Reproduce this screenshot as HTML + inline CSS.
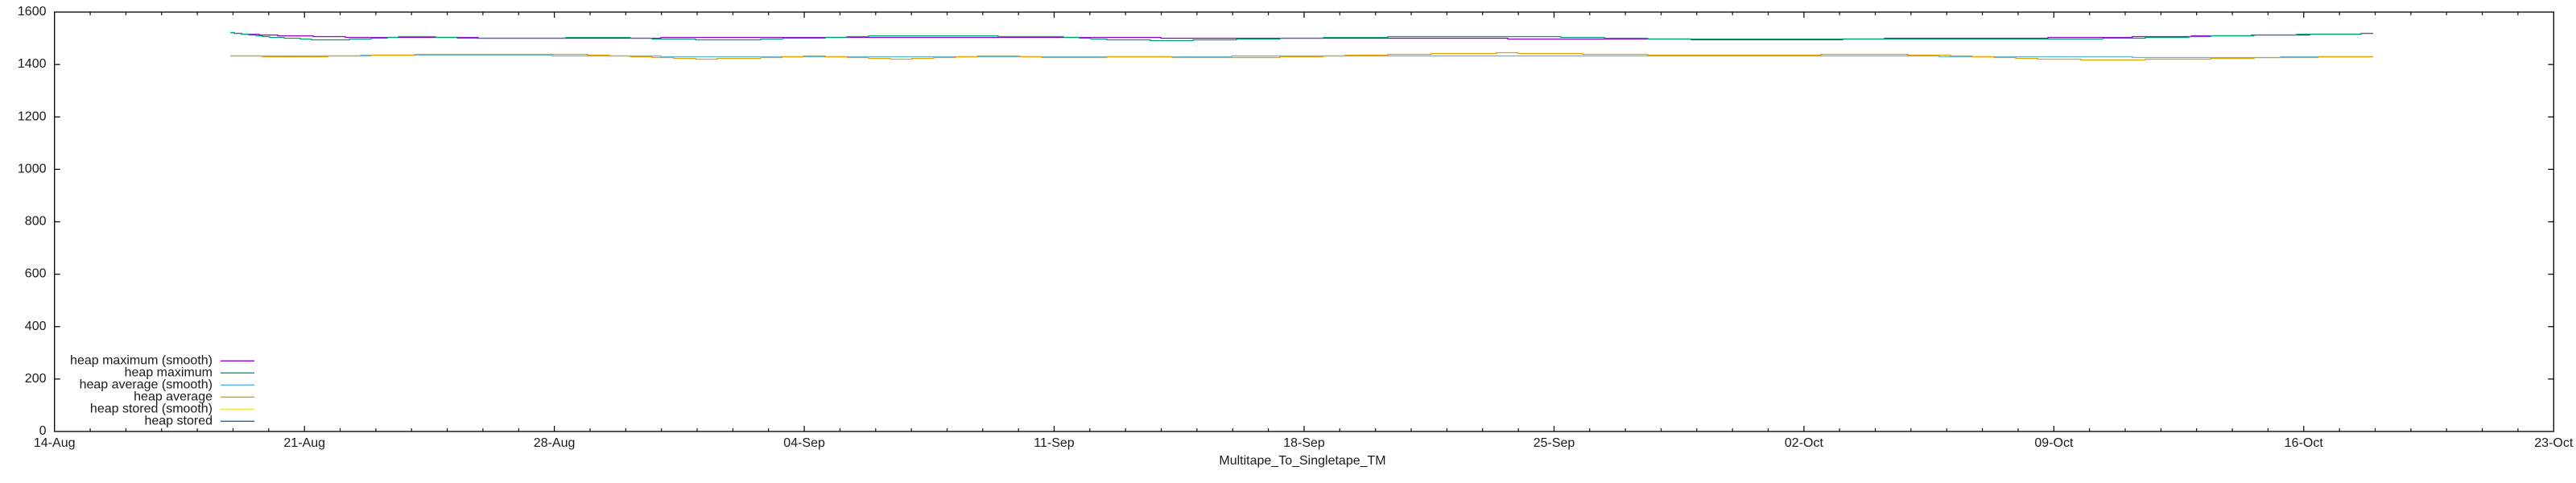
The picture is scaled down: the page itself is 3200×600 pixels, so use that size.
<!DOCTYPE html>
<html>
<head>
<meta charset="utf-8">
<style>
  html, body { margin: 0; padding: 0; background: #ffffff; }
  svg { display: block; }
  text { font-family: "Liberation Sans", "DejaVu Sans", sans-serif; font-size: 16px; fill: #1a1a1a; }
</style>
</head>
<body>
<svg width="3200" height="600" viewBox="0 0 3200 600" xmlns="http://www.w3.org/2000/svg">
  <rect x="0" y="0" width="3200" height="600" fill="#ffffff"/>

  <!-- data series -->
  <g fill="none" stroke-width="1.3">
    <!-- heap maximum (smooth) -->
    <path stroke="#9400d3" d="M286 40.5 H291 V41.5 H300 V42.5 H322 V43.5 H345 V44.5 H389 V45.5 H429 V46.5 H594 V47.5 H821 V46.5 H1442 V47.5 H1873 V48.5 H2101 V49.3 H2289 V48.5 H2341 V47.5 H2544 V46.5 H2649 V45.5 H2722 V44.5 H2797 V43.5 H2869 V42.5 H2933 V41.5 H2948"/>
    <!-- heap maximum -->
    <path stroke="#009e73" d="M286 40.5 H291 V41.5 H300 V42.5 H309 V43.5 H318 V44.5 H326 V45.5 H335 V46.5 H353 V47.5 H373 V48.5 H387 V49.5 H434 V48.5 H461 V47.5 H481 V46.5 H495 V45.5 H541 V46.5 H568 V47.5 H703 V46.5 H783 V47.5 H810 V48.5 H864 V49.5 H945 V48.5 H972 V47.5 H1025 V46.5 H1052 V45.5 H1079 V44.5 H1240 V45.5 H1321 V46.5 H1341 V47.5 H1355 V48.5 H1375 V49.5 H1429 V50.5 H1482 V49.5 H1536 V48.5 H1590 V47.5 H1644 V46.5 H1724 V45.5 H1939 V46.5 H1993 V47.5 H2047 V48.5 H2612 V47.5 H2665 V46.5 H2719 V45.5 H2746 V44.5 H2800 V43.5 H2853 V42.5 H2933 V41.5 H2948"/>
    <!-- heap average (smooth) -->
    <path stroke="#56b4e9" d="M286 69.5 H448 V68.5 H686 V69.5 H821 V70.5 H1530 V69.5 H2409 V70.5 H2649 V71.5 H2833 V70.5 H2948"/>
    <!-- heap average -->
    <path stroke="#e69f00" d="M286 69.5 H326 V70.5 H407 V69.5 H461 V68.5 H515 V67.5 H730 V68.5 H757 V69.5 H783 V70.5 H810 V71.5 H837 V72.5 H864 V73.5 H891 V72.5 H945 V71.5 H972 V70.5 H998 V69.5 H1025 V70.5 H1052 V71.5 H1079 V72.5 H1106 V73.5 H1133 V72.5 H1160 V71.5 H1187 V70.5 H1214 V69.5 H1267 V70.5 H1294 V71.5 H1375 V70.5 H1456 V71.5 H1590 V70.5 H1644 V69.5 H1671 V68.5 H1724 V67.5 H1778 V66.5 H1859 V65.5 H1886 V66.5 H1966 V67.5 H2047 V68.5 H2262 V67.5 H2370 V68.5 H2423 V69.5 H2450 V70.5 H2477 V71.5 H2504 V72.5 H2531 V73.5 H2585 V74.5 H2665 V73.5 H2746 V72.5 H2800 V71.5 H2880 V70.5 H2948"/>
  </g>

  <!-- axes border -->
  <rect x="67.7" y="15" width="3104.6" height="521" fill="none" stroke="#000" stroke-width="1.3"/>

  <!-- y ticks (left and mirrored right) -->
  <path stroke="#000" stroke-width="1.2" fill="none" d="
    M67.7 470.9 h7 M67.7 405.75 h7 M67.7 340.6 h7 M67.7 275.5 h7 M67.7 210.4 h7 M67.7 145.25 h7 M67.7 80.1 h7
    M3172.3 470.9 h-7 M3172.3 405.75 h-7 M3172.3 340.6 h-7 M3172.3 275.5 h-7 M3172.3 210.4 h-7 M3172.3 145.25 h-7 M3172.3 80.1 h-7"/>

  <!-- x major ticks -->
  <path stroke="#000" stroke-width="1.2" fill="none" d="
    M378.2 536 v-7 M688.6 536 v-7 M999.1 536 v-7 M1309.5 536 v-7 M1620 536 v-7 M1930.5 536 v-7 M2240.9 536 v-7 M2551.4 536 v-7 M2861.8 536 v-7
    M378.2 15 v7 M688.6 15 v7 M999.1 15 v7 M1309.5 15 v7 M1620 15 v7 M1930.5 15 v7 M2240.9 15 v7 M2551.4 15 v7 M2861.8 15 v7"/>

  <!-- x minor ticks -->
  <path stroke="#000" stroke-width="1.1" fill="none" d="
    M112.05 536 v-4 M156.4 536 v-4 M200.75 536 v-4 M245.1 536 v-4 M289.5 536 v-4 M333.8 536 v-4
    M422.5 536 v-4 M466.9 536 v-4 M511.2 536 v-4 M555.6 536 v-4 M599.9 536 v-4 M644.3 536 v-4
    M733 536 v-4 M777.3 536 v-4 M821.7 536 v-4 M866 536 v-4 M910.4 536 v-4 M954.7 536 v-4
    M1043.4 536 v-4 M1087.8 536 v-4 M1132.1 536 v-4 M1176.5 536 v-4 M1220.8 536 v-4 M1265.2 536 v-4
    M1353.9 536 v-4 M1398.2 536 v-4 M1442.6 536 v-4 M1486.9 536 v-4 M1531.3 536 v-4 M1575.6 536 v-4
    M1664.3 536 v-4 M1708.7 536 v-4 M1753 536 v-4 M1797.4 536 v-4 M1841.7 536 v-4 M1886.1 536 v-4
    M1974.8 536 v-4 M2019.1 536 v-4 M2063.5 536 v-4 M2107.8 536 v-4 M2152.2 536 v-4 M2196.5 536 v-4
    M2285.2 536 v-4 M2329.6 536 v-4 M2373.9 536 v-4 M2418.3 536 v-4 M2462.6 536 v-4 M2507 536 v-4
    M2595.7 536 v-4 M2640 536 v-4 M2684.4 536 v-4 M2728.7 536 v-4 M2773.1 536 v-4 M2817.4 536 v-4
    M2906.2 536 v-4 M2950.5 536 v-4 M2994.9 536 v-4 M3039.2 536 v-4 M3083.6 536 v-4 M3127.9 536 v-4
    M112.05 15 v4 M156.4 15 v4 M200.75 15 v4 M245.1 15 v4 M289.5 15 v4 M333.8 15 v4
    M422.5 15 v4 M466.9 15 v4 M511.2 15 v4 M555.6 15 v4 M599.9 15 v4 M644.3 15 v4
    M733 15 v4 M777.3 15 v4 M821.7 15 v4 M866 15 v4 M910.4 15 v4 M954.7 15 v4
    M1043.4 15 v4 M1087.8 15 v4 M1132.1 15 v4 M1176.5 15 v4 M1220.8 15 v4 M1265.2 15 v4
    M1353.9 15 v4 M1398.2 15 v4 M1442.6 15 v4 M1486.9 15 v4 M1531.3 15 v4 M1575.6 15 v4
    M1664.3 15 v4 M1708.7 15 v4 M1753 15 v4 M1797.4 15 v4 M1841.7 15 v4 M1886.1 15 v4
    M1974.8 15 v4 M2019.1 15 v4 M2063.5 15 v4 M2107.8 15 v4 M2152.2 15 v4 M2196.5 15 v4
    M2285.2 15 v4 M2329.6 15 v4 M2373.9 15 v4 M2418.3 15 v4 M2462.6 15 v4 M2507 15 v4
    M2595.7 15 v4 M2640 15 v4 M2684.4 15 v4 M2728.7 15 v4 M2773.1 15 v4 M2817.4 15 v4
    M2906.2 15 v4 M2950.5 15 v4 M2994.9 15 v4 M3039.2 15 v4 M3083.6 15 v4 M3127.9 15 v4"/>

  <!-- y tick labels -->
  <g text-anchor="end">
    <text x="57.5" y="540">0</text>
    <text x="57.5" y="474.9">200</text>
    <text x="57.5" y="409.75">400</text>
    <text x="57.5" y="344.6">600</text>
    <text x="57.5" y="279.5">800</text>
    <text x="57.5" y="214.4">1000</text>
    <text x="57.5" y="149.25">1200</text>
    <text x="57.5" y="84.1">1400</text>
    <text x="57.5" y="19">1600</text>
  </g>

  <!-- x tick labels -->
  <g text-anchor="middle">
    <text x="67.7" y="555">14-Aug</text>
    <text x="378.2" y="555">21-Aug</text>
    <text x="688.6" y="555">28-Aug</text>
    <text x="999.1" y="555">04-Sep</text>
    <text x="1309.5" y="555">11-Sep</text>
    <text x="1620" y="555">18-Sep</text>
    <text x="1930.5" y="555">25-Sep</text>
    <text x="2240.9" y="555">02-Oct</text>
    <text x="2551.4" y="555">09-Oct</text>
    <text x="2861.8" y="555">16-Oct</text>
    <text x="3172.3" y="555">23-Oct</text>
    <text x="1618" y="577">Multitape_To_Singletape_TM</text>
  </g>

  <!-- legend -->
  <g text-anchor="end">
    <text x="264" y="452.3">heap maximum (smooth)</text>
    <text x="264" y="467.3">heap maximum</text>
    <text x="264" y="482.3">heap average (smooth)</text>
    <text x="264" y="497.3">heap average</text>
    <text x="264" y="512.3">heap stored (smooth)</text>
    <text x="264" y="527.3">heap stored</text>
  </g>
  <g stroke-width="1.3">
    <line x1="274" y1="448.3" x2="316" y2="448.3" stroke="#9400d3"/>
    <line x1="274" y1="463.3" x2="316" y2="463.3" stroke="#009e73"/>
    <line x1="274" y1="478.3" x2="316" y2="478.3" stroke="#56b4e9"/>
    <line x1="274" y1="493.3" x2="316" y2="493.3" stroke="#e69f00"/>
    <line x1="274" y1="508.3" x2="316" y2="508.3" stroke="#f0e442"/>
    <line x1="274" y1="523.3" x2="316" y2="523.3" stroke="#0072b2"/>
  </g>
</svg>
</body>
</html>
